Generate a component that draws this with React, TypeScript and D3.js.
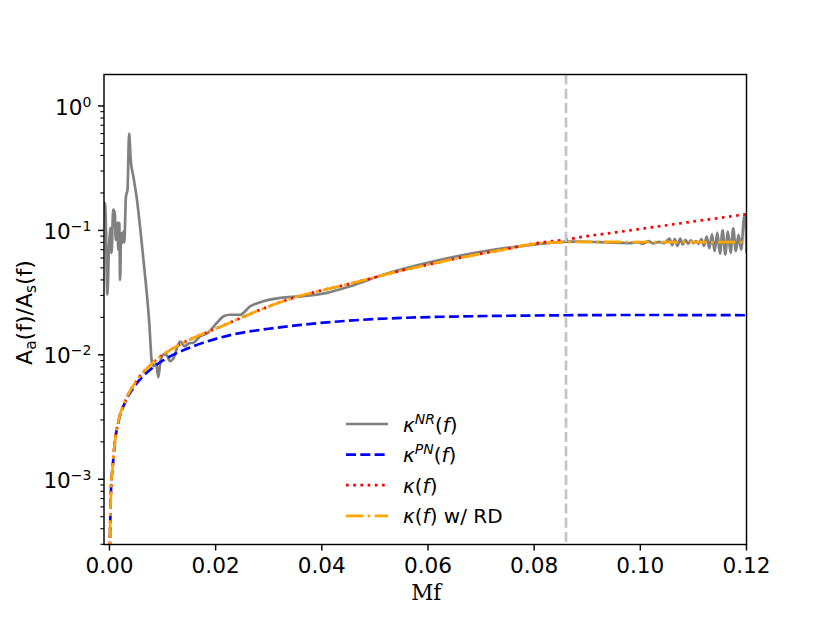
import React, { useEffect, useRef } from "react";
import * as d3 from "d3";

type Pt = [number, number];

// numerical relativity ratio (noisy)
const kappaNR: Pt[] = [
  [-0.0011, 0.15], [-0.00085, 0.166], [-0.0007, 0.12], [-0.0004, 0.0305],
  [-0.0001, 0.07], [0.0002, 0.105], [0.0004, 0.066], [0.0007, 0.147],
  [0.001, 0.138], [0.0012, 0.084], [0.0015, 0.115], [0.00166, 0.07],
  [0.00185, 0.115], [0.002, 0.04], [0.0022, 0.095], [0.0024, 0.079],
  [0.0026, 0.098], [0.0028, 0.08], [0.0031, 0.187], [0.0034, 0.212],
  [0.0037, 0.6], [0.004, 0.369], [0.0045, 0.271], [0.0051, 0.187],
  [0.0064, 0.058], [0.0075, 0.018], [0.008, 0.00865], [0.0084, 0.0081],
  [0.0088, 0.0085], [0.0092, 0.0066], [0.0096, 0.0088], [0.0102, 0.0101],
  [0.0108, 0.0099], [0.0114, 0.0089], [0.012, 0.0093], [0.0133, 0.0128],
  [0.0142, 0.0117], [0.015, 0.0124], [0.0158, 0.0125], [0.0171, 0.0141],
  [0.0185, 0.015], [0.0202, 0.018], [0.0215, 0.0204], [0.0227, 0.021],
  [0.0246, 0.021], [0.0265, 0.0245], [0.0284, 0.0265], [0.0322, 0.0287],
  [0.036, 0.0295], [0.041, 0.0315], [0.0454, 0.0356], [0.0517, 0.0442],
  [0.0611, 0.0564], [0.0705, 0.0679], [0.08, 0.0768], [0.0863, 0.0812],
  [0.088, 0.0812], [0.09, 0.081], [0.092, 0.0805], [0.094, 0.08],
  [0.096, 0.0795], [0.098, 0.079], [0.0995, 0.0805], [0.1005, 0.078],
  [0.1015, 0.082], [0.1025, 0.0785], [0.1035, 0.081], [0.1045, 0.079],
  [0.1055, 0.086], [0.106, 0.076], [0.1065, 0.085], [0.107, 0.075],
  [0.1075, 0.086], [0.108, 0.077], [0.1085, 0.084], [0.109, 0.078],
  [0.1095, 0.083], [0.11, 0.079], [0.1105, 0.082], [0.111, 0.078],
  [0.1115, 0.085], [0.112, 0.075], [0.1125, 0.089], [0.113, 0.072],
  [0.1135, 0.093], [0.114, 0.068], [0.1145, 0.096], [0.115, 0.065],
  [0.1155, 0.1], [0.116, 0.064], [0.1165, 0.098], [0.117, 0.066],
  [0.1175, 0.104], [0.118, 0.068], [0.1185, 0.092], [0.119, 0.07],
  [0.1195, 0.125], [0.11975, 0.134], [0.12, 0.066],
];

// post-Newtonian
const kappaPN: Pt[] = [
  [0.00003, 0.0002], [0.0001, 0.00034], [0.0003, 0.00085], [0.0006, 0.00125],
  [0.001, 0.00195], [0.0017, 0.0029], [0.003, 0.0042], [0.005, 0.0058],
  [0.008, 0.0078], [0.012, 0.01], [0.016, 0.0118], [0.023, 0.0145],
  [0.03, 0.0162], [0.036, 0.0174], [0.045, 0.0188], [0.055, 0.0198],
  [0.065, 0.0203], [0.075, 0.0206], [0.086, 0.0208], [0.1, 0.0209],
  [0.12, 0.0208],
];

// fit without ringdown
const kappaFit: Pt[] = [
  [0.00003, 0.0002], [0.0001, 0.00034], [0.0003, 0.00085], [0.0006, 0.00125],
  [0.001, 0.00197], [0.0017, 0.00295], [0.003, 0.0043], [0.005, 0.0061],
  [0.008, 0.0085], [0.012, 0.0113], [0.016, 0.0138], [0.02, 0.0162],
  [0.025, 0.02], [0.03, 0.0245], [0.035, 0.029], [0.04, 0.033],
  [0.045, 0.037], [0.05, 0.042], [0.055, 0.0475], [0.06, 0.053],
  [0.065, 0.059], [0.07, 0.065], [0.075, 0.071], [0.08, 0.0785],
  [0.086, 0.0845], [0.09, 0.09], [0.095, 0.096], [0.1, 0.1028],
  [0.105, 0.11], [0.11, 0.118], [0.115, 0.126], [0.12, 0.135],
];

// fit with ringdown
const kappaRD: Pt[] = [
  [0.00003, 0.0002], [0.0001, 0.00034], [0.0003, 0.00085], [0.0006, 0.00125],
  [0.001, 0.00197], [0.0017, 0.00295], [0.003, 0.0043], [0.005, 0.0061],
  [0.008, 0.0085], [0.012, 0.0113], [0.016, 0.0138], [0.02, 0.0162],
  [0.025, 0.02], [0.03, 0.0245], [0.035, 0.029], [0.04, 0.033],
  [0.045, 0.037], [0.05, 0.042], [0.055, 0.0475], [0.06, 0.053],
  [0.065, 0.059], [0.07, 0.065], [0.075, 0.071], [0.08, 0.078],
  [0.086, 0.0805], [0.09, 0.081], [0.1, 0.0806], [0.11, 0.0805],
  [0.12, 0.0805],
];

const ringdownFreq = 0.086;
const xTicks = [0, 0.02, 0.04, 0.06, 0.08, 0.1, 0.12];
const yTicks = [1e-3, 1e-2, 1e-1, 1];
const yTickExp = ["\u22123", "\u22122", "\u22121", "0"];

const W = 830;
const H = 623;
const left = 104;
const right = 746.5;
const top = 74.5;
const bottom = 544.5;

const FONT = "DejaVu Sans, sans-serif";

const App = () => {
  const svgRef = useRef<SVGSVGElement | null>(null);

  useEffect(() => {
    const svg = d3.select(svgRef.current);
    svg.selectAll("*").remove();

    const x = d3.scaleLinear().domain([-0.00103, 0.12]).range([left, right]);
    const y = d3.scaleLog().domain([2.99e-4, 1.79]).range([bottom, top]);

    svg
      .append("defs")
      .append("clipPath")
      .attr("id", "plot-clip")
      .append("rect")
      .attr("x", left)
      .attr("y", top)
      .attr("width", right - left)
      .attr("height", bottom - top);

    const line = d3
      .line<Pt>()
      .x((d) => x(d[0]))
      .y((d) => y(d[1]))
      .curve(d3.curveMonotoneX);

    const series = [
      { data: kappaNR, color: "#808080", dash: null },
      { data: kappaPN, color: "#0000ff", dash: "10 4.3" },
      { data: kappaFit, color: "#ff0000", dash: "2.7 4.5" },
      { data: kappaRD, color: "#ffa500", dash: "17.3 4.3 2.7 4.3" },
    ];

    const plot = svg.append("g").attr("clip-path", "url(#plot-clip)");
    series.forEach((s) => {
      plot
        .append("path")
        .attr("d", line(s.data))
        .attr("fill", "none")
        .attr("stroke", s.color)
        .attr("stroke-width", 2.7)
        .attr("stroke-dasharray", s.dash)
        .attr("stroke-linejoin", "round");
    });

    plot
      .append("line")
      .attr("x1", x(ringdownFreq))
      .attr("x2", x(ringdownFreq))
      .attr("y1", top)
      .attr("y2", bottom)
      .attr("stroke", "#c4c4c4")
      .attr("stroke-width", 2.7)
      .attr("stroke-dasharray", "10 4.3");

    // axes frame
    svg
      .append("rect")
      .attr("x", left)
      .attr("y", top)
      .attr("width", right - left)
      .attr("height", bottom - top)
      .attr("fill", "none")
      .attr("stroke", "#000")
      .attr("stroke-width", 1.44);

    // x ticks
    const gx = svg.append("g");
    xTicks.forEach((t) => {
      gx.append("line")
        .attr("x1", x(t))
        .attr("x2", x(t))
        .attr("y1", bottom)
        .attr("y2", bottom + 6)
        .attr("stroke", "#000")
        .attr("stroke-width", 1.44);
      gx.append("text")
        .attr("x", x(t))
        .attr("y", bottom + 28.5)
        .attr("text-anchor", "middle")
        .attr("font-family", FONT)
        .attr("font-size", 21.6)
        .text(t.toFixed(2));
    });

    // y ticks (log)
    const gy = svg.append("g");
    const [y0, y1] = y.domain();
    for (let e = -4; e <= 0; e++) {
      for (let m = 2; m <= 9; m++) {
        const v = m * Math.pow(10, e);
        if (v < y0 || v > y1) continue;
        gy.append("line")
          .attr("x1", left - 3.6)
          .attr("x2", left)
          .attr("y1", y(v))
          .attr("y2", y(v))
          .attr("stroke", "#000")
          .attr("stroke-width", 1.1);
      }
    }
    yTicks.forEach((t, i) => {
      gy.append("line")
        .attr("x1", left - 6)
        .attr("x2", left)
        .attr("y1", y(t))
        .attr("y2", y(t))
        .attr("stroke", "#000")
        .attr("stroke-width", 1.44);
      const label = gy
        .append("text")
        .attr("x", left - 12.5)
        .attr("y", y(t) + 8.6)
        .attr("text-anchor", "end")
        .attr("font-family", FONT)
        .attr("font-size", 21.6);
      label.append("tspan").text("10");
      label
        .append("tspan")
        .attr("dy", -8)
        .attr("font-size", 14)
        .text(yTickExp[i]);
    });

    // axis labels
    svg
      .append("text")
      .attr("x", (left + right) / 2 + 1)
      .attr("y", 600)
      .attr("text-anchor", "middle")
      .attr("font-family", "DejaVu Serif, serif")
      .attr("font-size", 21.6)
      .text("Mf");

    const yl = svg
      .append("text")
      .attr("transform", `translate(31.5, ${(top + bottom) / 2 + 3}) rotate(-90)`)
      .attr("text-anchor", "middle")
      .attr("font-family", FONT)
      .attr("font-size", 22);
    yl.append("tspan").text("A");
    yl.append("tspan").attr("dy", 4).attr("font-size", 15.4).text("a");
    yl.append("tspan").attr("dy", -4).text("(f)/A");
    yl.append("tspan").attr("dy", 4).attr("font-size", 15.4).text("s");
    yl.append("tspan").attr("dy", -4).text("(f)");

    // legend
    const legendItems = [
      { sup: "NR", color: "#808080", dash: null, extra: "" },
      { sup: "PN", color: "#0000ff", dash: "10 4.3", extra: "" },
      { sup: "", color: "#ff0000", dash: "2.7 4.5", extra: "" },
      { sup: "", color: "#ffa500", dash: "17.3 4.3 2.7 4.3", extra: " w/ RD" },
    ];
    const lg = svg.append("g");
    legendItems.forEach((it, i) => {
      const ry = 424 + i * 30.6;
      lg.append("line")
        .attr("x1", 346)
        .attr("x2", 388)
        .attr("y1", ry)
        .attr("y2", ry)
        .attr("stroke", it.color)
        .attr("stroke-width", 2.7)
        .attr("stroke-dasharray", it.dash);
      const t = lg
        .append("text")
        .attr("x", 403)
        .attr("y", ry + 7.5)
        .attr("font-family", FONT)
        .attr("font-size", 20);
      t.append("tspan").attr("font-style", "italic").text("\u03ba");
      if (it.sup) {
        t.append("tspan")
          .attr("dy", -8)
          .attr("font-size", 14)
          .attr("font-style", "italic")
          .text(it.sup);
        t.append("tspan").attr("dy", 8).text("(");
      } else {
        t.append("tspan").text("(");
      }
      t.append("tspan").attr("font-style", "italic").text("f");
      t.append("tspan").text(")" + it.extra);
    });
  }, []);

  return (
    <svg
      ref={svgRef}
      width={W}
      height={H}
      style={{ position: "absolute", left: 0, top: 0, background: "#fff" }}
    />
  );
};

export default App;
